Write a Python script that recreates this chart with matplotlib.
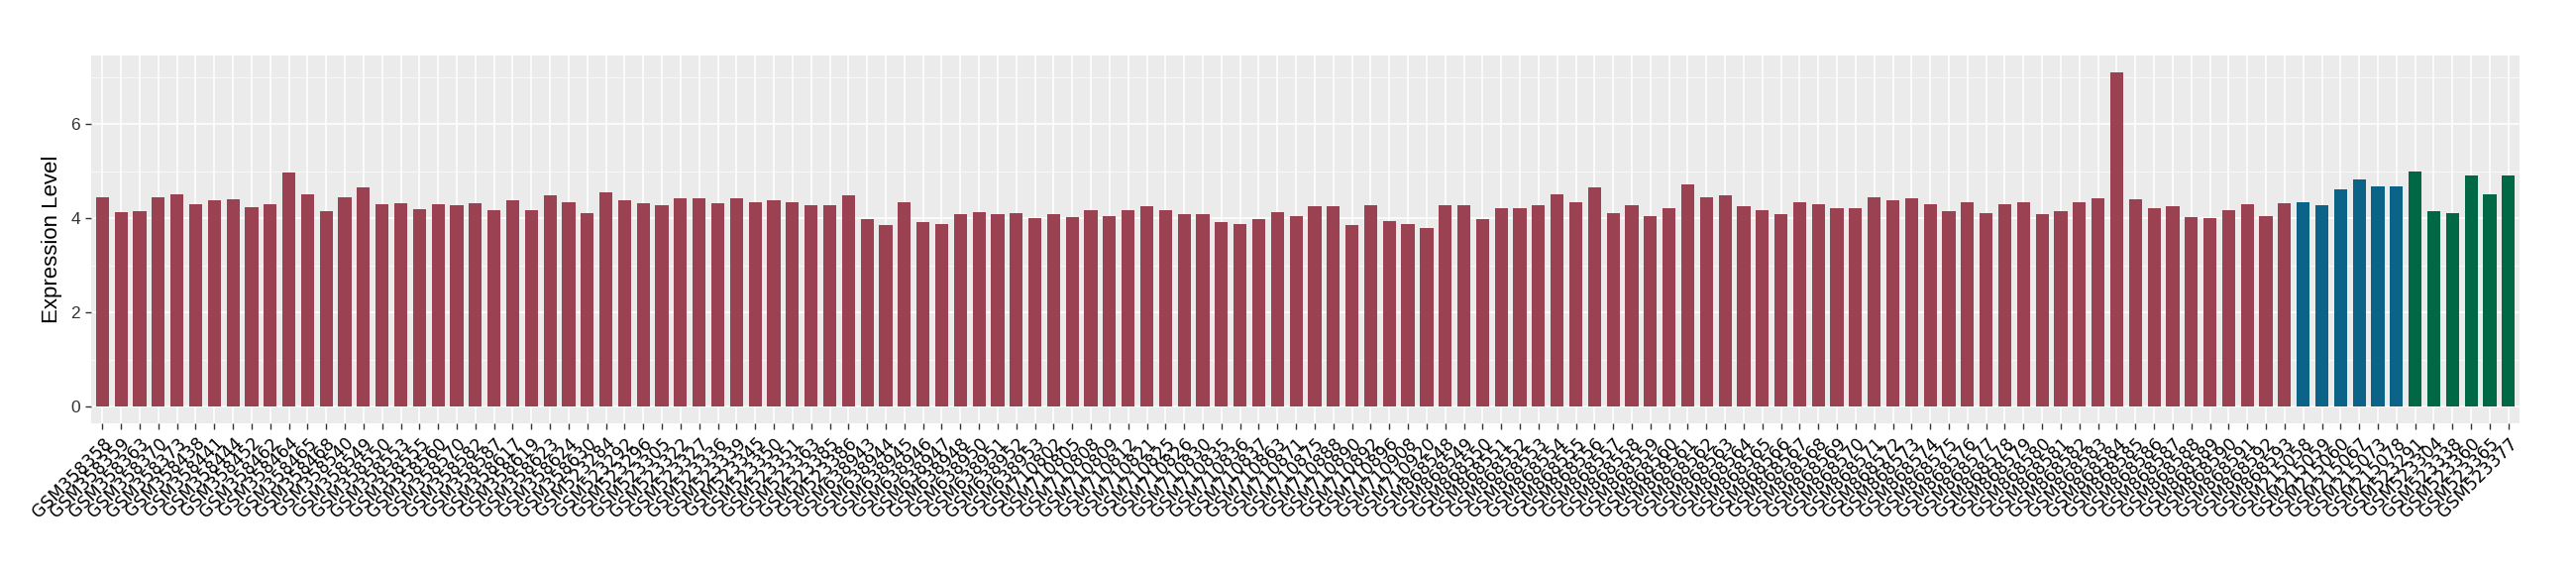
import matplotlib.pyplot as plt
import numpy as np

# sample ids, grouped by series (colour)
samples_red = [
    "GSM358358", "GSM358359", "GSM358363", "GSM358370", "GSM358373", "GSM358438",
    "GSM358441", "GSM358444", "GSM358452", "GSM358462", "GSM358464", "GSM358465",
    "GSM358468", "GSM358540", "GSM358549", "GSM358550", "GSM358553", "GSM358555",
    "GSM358560", "GSM358570", "GSM358582", "GSM358587", "GSM358617", "GSM358619",
    "GSM358623", "GSM358624", "GSM358630",
    "GSM523284", "GSM523292", "GSM523296", "GSM523305", "GSM523322", "GSM523327",
    "GSM523336", "GSM523339", "GSM523345", "GSM523350", "GSM523351", "GSM523363",
    "GSM523385", "GSM523386",
    "GSM638943", "GSM638944", "GSM638945", "GSM638946", "GSM638947", "GSM638948",
    "GSM638950", "GSM638951", "GSM638952", "GSM638953",
    "GSM710802", "GSM710805", "GSM710808", "GSM710809", "GSM710812", "GSM710821",
    "GSM710825", "GSM710826", "GSM710830", "GSM710835", "GSM710836", "GSM710837",
    "GSM710863", "GSM710871", "GSM710875", "GSM710888", "GSM710890", "GSM710892",
    "GSM710896", "GSM710908", "GSM710920",
    "GSM868548", "GSM868549", "GSM868550", "GSM868551", "GSM868552", "GSM868553",
    "GSM868554", "GSM868555", "GSM868556", "GSM868557", "GSM868558", "GSM868559",
    "GSM868560", "GSM868561", "GSM868562", "GSM868563", "GSM868564", "GSM868565",
    "GSM868566", "GSM868567", "GSM868568", "GSM868569", "GSM868570", "GSM868571",
    "GSM868572", "GSM868573", "GSM868574", "GSM868575", "GSM868576", "GSM868577",
    "GSM868578", "GSM868579", "GSM868580", "GSM868581", "GSM868582", "GSM868583",
    "GSM868584", "GSM868585", "GSM868586", "GSM868587", "GSM868588", "GSM868589",
    "GSM868590", "GSM868591", "GSM868592", "GSM868593",
]
values_red = [
    4.45, 4.14, 4.16, 4.45, 4.50, 4.29, 4.38, 4.40, 4.24, 4.29, 4.97, 4.50,
    4.15, 4.45, 4.65, 4.30, 4.32, 4.20, 4.30, 4.28, 4.33, 4.18, 4.38, 4.18,
    4.48, 4.35, 4.12,
    4.55, 4.38, 4.32, 4.28, 4.42, 4.43, 4.32, 4.42, 4.35, 4.38, 4.35, 4.27,
    4.28, 4.48,
    3.98, 3.85, 4.35, 3.93, 3.88, 4.08, 4.13, 4.08, 4.10, 4.00,
    4.08, 4.02, 4.18, 4.05, 4.18, 4.25, 4.18, 4.08, 4.08, 3.93, 3.88, 3.98,
    4.13, 4.05, 4.25, 4.25, 3.85, 4.28, 3.95, 3.88, 3.80,
    4.28, 4.28, 3.98, 4.22, 4.22, 4.28, 4.50, 4.35, 4.65, 4.10, 4.28, 4.05,
    4.22, 4.72, 4.45, 4.48, 4.25, 4.18, 4.08, 4.35, 4.30, 4.22, 4.22, 4.45,
    4.38, 4.42, 4.30, 4.15, 4.35, 4.12, 4.30, 4.35, 4.08, 4.15, 4.35, 4.42,
    7.10, 4.40, 4.22, 4.25, 4.03, 4.00, 4.18, 4.30, 4.05, 4.32,
]
samples_blue = ["GSM215058", "GSM215059", "GSM215060", "GSM215067", "GSM215073", "GSM215078"]
values_blue = [4.35, 4.28, 4.62, 4.82, 4.67, 4.67]
samples_green = ["GSM523291", "GSM523304", "GSM523338", "GSM523360", "GSM523365", "GSM523377"]
values_green = [4.99, 4.16, 4.10, 4.92, 4.50, 4.92]

COL_RED = "#9A4251"
COL_BLUE = "#0B6488"
COL_GREEN = "#016846"

labels = samples_red + samples_blue + samples_green
values = values_red + values_blue + values_green
colors = [COL_RED] * len(values_red) + [COL_BLUE] * len(values_blue) + [COL_GREEN] * len(values_green)
x = np.arange(len(labels))

fig = plt.figure(figsize=(26, 5.8), dpi=100)
ax = fig.add_axes([0.0354, 0.264, 0.9427, 0.639])

ax.set_facecolor("#EBEBEB")
ax.bar(x, values, width=0.7, color=colors, zorder=3)

# ggplot-like grid
ax.set_yticks([0, 2, 4, 6])
ax.set_yticks([1, 3, 5, 7], minor=True)
ax.grid(True, which="major", color="white", linewidth=1.1, zorder=0)
ax.grid(True, which="minor", axis="y", color="white", linewidth=0.5, zorder=0)
ax.set_axisbelow(True)

ax.set_ylim(-max(values) * 0.05, max(values) * 1.05)
ax.set_xlim(-0.6, len(labels) - 0.4)

ax.set_xticks(x)
ax.set_xticklabels(labels, rotation=45, ha="right", va="top",
                   rotation_mode="anchor", fontsize=12.5, family="DejaVu Sans")
ax.tick_params(axis="both", which="major", length=4.5, color="#333333", width=1)
ax.tick_params(axis="y", which="minor", length=0)
ax.tick_params(axis="y", labelsize=12.5, labelcolor="#333333")
for t in ax.get_yticklabels():
    t.set_family("Liberation Sans")

for s in ax.spines.values():
    s.set_visible(False)

ax.set_ylabel("Expression Level", fontsize=16, family="Liberation Sans", labelpad=6)

fig.savefig("out.png", dpi=100)
